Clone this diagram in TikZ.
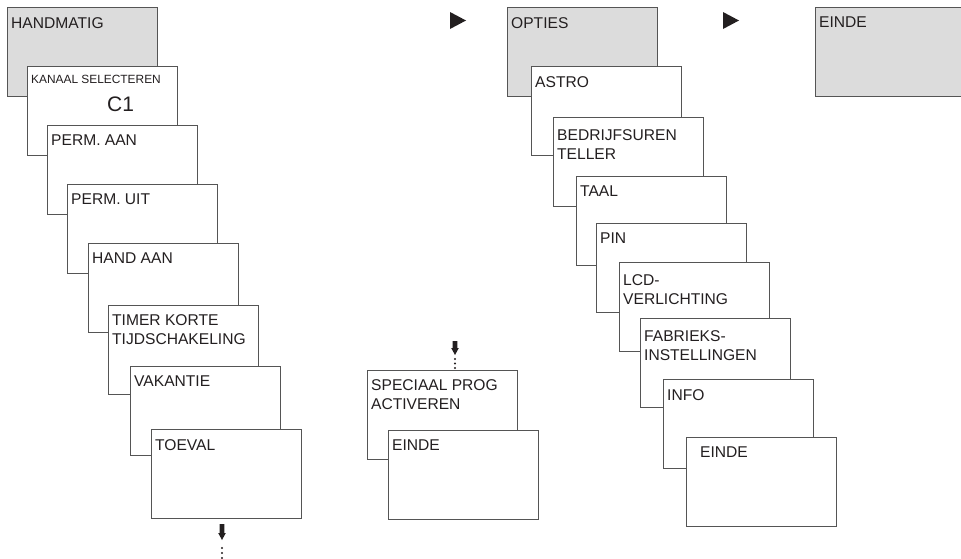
\documentclass[tikz,border=0pt]{standalone}
\usepackage{fontspec}
\setmainfont{Liberation Sans}
\usepackage{tikz}

\definecolor{scrgray}{RGB}{220,220,220}
\definecolor{scrline}{RGB}{85,85,85}
\definecolor{scrtext}{RGB}{35,31,32}
\newcommand{\scrfont}{\fontsize{15.6bp}{19.5bp}\selectfont}

\tikzset{
  screen/.style={draw=scrline,fill=white,line width=1.3bp,minimum width=150bp,minimum height=89bp,anchor=north west,inner sep=0pt},
  menu/.style={screen,fill=scrgray},
  txt/.style={anchor=north west,xshift=4bp,yshift=-10bp,inner sep=0pt,align=left,font=\scrfont,text=scrtext},
}

\begin{document}
\begin{tikzpicture}
\useasboundingbox (0bp,0bp) rectangle (961bp,-559bp);
\clip (0bp,0bp) rectangle (961bp,-559bp);

% hand menu
\node (hand) at (7bp,-7bp)[menu,label={[txt]north west:HANDMATIG}] {};
\node (kanaal) at (27bp,-66bp)[screen,label={[txt,yshift=1bp,font=\fontsize{11.9bp}{14bp}\selectfont]north west:KANAAL SELECTEREN},label={[txt,xshift=76bp,yshift=-21bp,font=\fontsize{21bp}{24bp}\selectfont]north west:C1}] {};
\node (permaan) at (47bp,-125bp)[screen,label={[txt]north west:PERM. AAN}] {};
\node (permuit) at (67bp,-184bp)[screen,label={[txt]north west:PERM. UIT}] {};
\node (handaan) at (88bp,-243bp)[screen,label={[txt]north west:HAND AAN}] {};
\node (timer) at (108bp,-305bp)[screen,label={[txt,yshift=1bp]north west:TIMER KORTE\\TIJDSCHAKELING}] {};
\node (vakantie) at (130bp,-366bp)[screen,label={[txt]north west:VAKANTIE}] {};
\node (toeval) at (151bp,-429bp)[screen,label={[txt]north west:TOEVAL}] {};
\coordinate (dnL) at (222bp,-524bp);
\fill[scrtext] (dnL) ++(-2.4bp,0) -- ++(4.8bp,0) -- ++(0,-9bp) -- ++(1.4bp,0) -- ++(-3.8bp,-7bp) -- ++(-3.8bp,7bp) -- ++(1.4bp,0) -- cycle;
\foreach \d in {24bp,29bp,34bp} \fill[scrtext] (dnL) ++(0,-\d) circle (1.1bp);

% speciaal prog
\coordinate (dnM) at (455bp,-341bp);
\fill[scrtext] (dnM) ++(-2.4bp,0) -- ++(4.8bp,0) -- ++(0,-7bp) -- ++(1.4bp,0) -- ++(-3.8bp,-7bp) -- ++(-3.8bp,7bp) -- ++(1.4bp,0) -- cycle;
\foreach \d in {18bp,22.5bp,27bp} \fill[scrtext] (dnM) ++(0,-\d) circle (1.1bp);
\node (speciaal) at (367bp,-370bp)[screen,label={[txt,yshift=1bp]north west:SPECIAAL PROG\\ACTIVEREN}] {};
\node (eindeM) at (388bp,-430bp)[screen,label={[txt]north west:EINDE}] {};

% opties menu
\fill[scrtext] (450bp,-12bp) -- (466bp,-20.5bp) -- (450bp,-29bp) -- cycle;
\node (opties) at (507bp,-7bp)[menu,label={[txt]north west:OPTIES}] {};
\node (astro) at (531bp,-66bp)[screen,label={[txt]north west:ASTRO}] {};
\node (bedrijf) at (553bp,-117bp)[screen,label={[txt,yshift=-2bp]north west:BEDRIJFSUREN\\TELLER}] {};
\node (taal) at (576bp,-176bp)[screen,label={[txt]north west:TAAL}] {};
\node (pin) at (596bp,-223bp)[screen,label={[txt]north west:PIN}] {};
\node (lcd) at (619bp,-262bp)[screen,label={[txt,yshift=-2bp]north west:LCD-\\VERLICHTING}] {};
\node (fabrieks) at (640bp,-318bp)[screen,label={[txt,yshift=-2bp]north west:FABRIEKS-\\INSTELLINGEN}] {};
\node (info) at (663bp,-379bp)[screen,label={[txt]north west:INFO}] {};
\node (eindeR) at (686bp,-437bp)[screen,label={[txt,xshift=10bp]north west:EINDE}] {};

% einde menu
\fill[scrtext] (723bp,-12bp) -- (739bp,-20.5bp) -- (723bp,-29bp) -- cycle;
\node (einde) at (815bp,-7bp)[menu,label={[txt]north west:EINDE}] {};
\end{tikzpicture}
\end{document}
